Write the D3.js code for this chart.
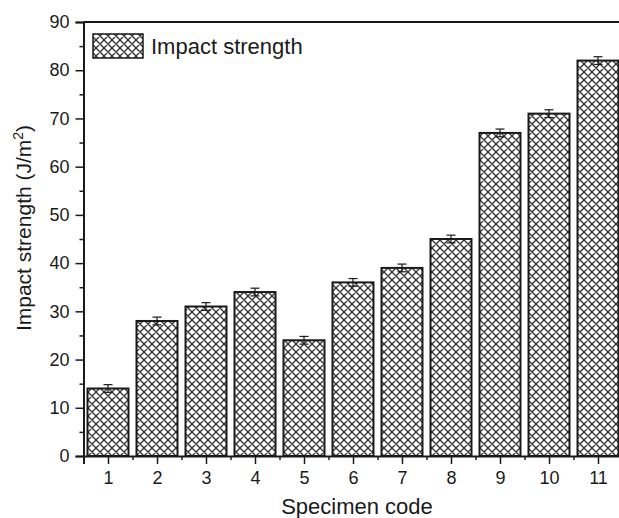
<!DOCTYPE html>
<html><head><meta charset="utf-8">
<script src="https://cdn.jsdelivr.net/npm/d3@7"></script>
<style>body{margin:0;background:#fff}svg{display:block}text{font-family:"Liberation Sans",Arial,sans-serif;fill:#1a1a1a}.tick text{font-size:18px}</style>
</head><body><svg id="c" width="619" height="518"></svg>
<script>
const categories = ["1","2","3","4","5","6","7","8","9","10","11"];
const values = [14, 28, 31, 34, 24, 36, 39, 45, 67, 71, 82];
const errors = [0.8, 0.8, 0.8, 0.8, 0.8, 0.8, 0.8, 0.8, 0.8, 0.8, 0.8];
const yTicks = [0,10,20,30,40,50,60,70,80,90];
const seriesName = "Impact strength";

const svg = d3.select("#c");
const L = 83.5, R = 622.5, T = 22, B = 456;
const x = d3.scaleLinear().domain([0.5, 11.5]).range([L, R]);
const y = d3.scaleLinear().domain([0, 90]).range([B, T]);
const bw = 41;

const defs = svg.append("defs");
const pat = defs.append("pattern").attr("id","hatch").attr("patternUnits","userSpaceOnUse")
  .attr("width",8).attr("height",8);
pat.append("rect").attr("width",8).attr("height",8).attr("fill","#fff");
pat.append("path").attr("d","M-2,2 L2,-2 M0,8 L8,0 M6,10 L10,6 M-2,6 L2,10 M0,0 L8,8 M6,-2 L10,2")
  .attr("stroke","#333").attr("stroke-width",1.3);

// bars
const g = svg.append("g");
categories.forEach((c,i)=>{
  const cx = x(i+1);
  g.append("rect").attr("x",cx-bw/2).attr("y",y(values[i])).attr("width",bw)
    .attr("height",y(0)-y(values[i])).attr("fill","url(#hatch)")
    .attr("stroke","#1a1a1a").attr("stroke-width",2);
  const e = errors[i];
  g.append("line").attr("x1",cx).attr("x2",cx).attr("y1",y(values[i]-e)).attr("y2",y(values[i]+e))
    .attr("stroke","#1a1a1a").attr("stroke-width",1.2);
  [values[i]-e, values[i]+e].forEach(v=>{
    g.append("line").attr("x1",cx-4.5).attr("x2",cx+4.5).attr("y1",y(v)).attr("y2",y(v))
      .attr("stroke","#1a1a1a").attr("stroke-width",1.2);
  });
});

// frame
svg.append("line").attr("x1",L).attr("x2",R).attr("y1",T).attr("y2",T).attr("stroke","#1a1a1a").attr("stroke-width",2);
svg.append("line").attr("x1",R).attr("x2",R).attr("y1",T).attr("y2",B).attr("stroke","#1a1a1a").attr("stroke-width",2);

// y axis
const ya = svg.append("g").attr("transform",`translate(${L},0)`)
  .call(d3.axisLeft(y).tickValues(yTicks).tickSize(8).tickPadding(6).tickFormat(d3.format("d")));
ya.attr("font-size",18);
ya.select(".domain").attr("stroke","#1a1a1a").attr("stroke-width",2);
ya.selectAll(".tick line").attr("stroke","#1a1a1a").attr("stroke-width",1.5);
ya.selectAll(".tick text").attr("font-size",18).attr("fill","#1a1a1a");
const yMinor = d3.range(5, 90, 10);
svg.append("g").attr("transform",`translate(${L},0)`)
  .call(d3.axisLeft(y).tickValues(yMinor).tickSize(4).tickFormat(""))
  .call(s=>{s.select(".domain").remove(); s.selectAll("line").attr("stroke","#1a1a1a").attr("stroke-width",1.5);});

// x axis
const xa = svg.append("g").attr("transform",`translate(0,${B})`)
  .call(d3.axisBottom(x).tickValues(d3.range(1,12)).tickSize(8).tickPadding(7).tickFormat((d,i)=>categories[i]));
xa.attr("font-size",18);
xa.select(".domain").attr("stroke","#1a1a1a").attr("stroke-width",2);
xa.selectAll(".tick line").attr("stroke","#1a1a1a").attr("stroke-width",1.5);
xa.selectAll(".tick text").attr("font-size",18).attr("fill","#1a1a1a");
svg.append("g").attr("transform",`translate(0,${B})`)
  .call(d3.axisBottom(x).tickValues(d3.range(1.5,11.5,1)).tickSize(4).tickFormat(""))
  .call(s=>{s.select(".domain").remove(); s.selectAll("line").attr("stroke","#1a1a1a").attr("stroke-width",1.5);});

// axis titles
svg.append("text").attr("x",357).attr("y",514).attr("text-anchor","middle")
  .style("font-size","22px").text("Specimen code");
const yl = svg.append("text").attr("transform",`translate(31,228) rotate(-90)`).attr("text-anchor","middle")
  .style("font-size","21px");
yl.append("tspan").text("Impact strength (J/m");
yl.append("tspan").attr("dy",-8).style("font-size","14px").text("2");
yl.append("tspan").attr("dy",8).text(")");

// legend
svg.append("rect").attr("x",93).attr("y",34).attr("width",50).attr("height",24)
  .attr("fill","url(#hatch)").attr("stroke","#1a1a1a").attr("stroke-width",1.5);
svg.append("text").attr("x",151).attr("y",54).style("font-size","22px").text(seriesName);
</script></body></html>
